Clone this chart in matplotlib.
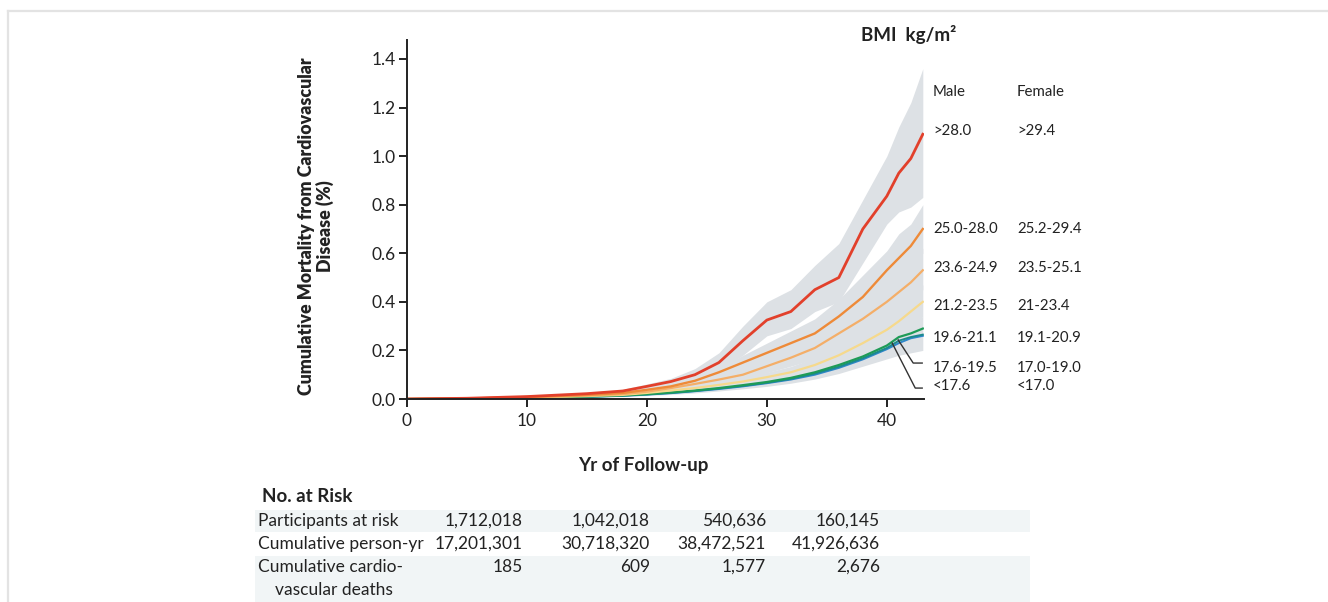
import matplotlib
matplotlib.use("Agg")
import matplotlib.pyplot as plt
from matplotlib.patches import Rectangle
from matplotlib.lines import Line2D

plt.rcParams['font.family'] = ['Lato', 'DejaVu Sans']
plt.rcParams['text.color'] = '#222222'

W, H = 1328, 602

# anos de seguimento
anos = [0, 5, 10, 15, 18, 20, 22, 24, 26, 28, 30, 32, 34, 36, 38, 40, 41, 42, 43]

# curvas de mortalidade cumulativa (%)
bmi_28 = [0, 0.003, 0.010, 0.022, 0.033, 0.052, 0.072, 0.100, 0.150, 0.240, 0.325, 0.360, 0.450, 0.500, 0.700, 0.835, 0.930, 0.990, 1.090]
bmi_25 = [0, 0.002, 0.008, 0.017, 0.025, 0.038, 0.052, 0.075, 0.110, 0.150, 0.190, 0.230, 0.270, 0.340, 0.420, 0.530, 0.580, 0.630, 0.700]
bmi_236 = [0, 0.002, 0.007, 0.014, 0.020, 0.030, 0.045, 0.062, 0.080, 0.100, 0.135, 0.170, 0.210, 0.270, 0.330, 0.400, 0.440, 0.480, 0.530]
bmi_212 = [0, 0.001, 0.006, 0.012, 0.017, 0.025, 0.035, 0.045, 0.058, 0.072, 0.090, 0.110, 0.140, 0.180, 0.230, 0.285, 0.320, 0.360, 0.400]
bmi_196 = [0, 0.001, 0.004, 0.010, 0.015, 0.020, 0.027, 0.035, 0.045, 0.057, 0.070, 0.087, 0.110, 0.140, 0.175, 0.220, 0.255, 0.270, 0.290]
bmi_176 = [0, 0.001, 0.004, 0.009, 0.014, 0.019, 0.025, 0.033, 0.043, 0.054, 0.067, 0.083, 0.105, 0.133, 0.168, 0.210, 0.240, 0.255, 0.265]
bmi_lt176 = [0, 0.001, 0.004, 0.009, 0.013, 0.018, 0.024, 0.032, 0.041, 0.052, 0.065, 0.080, 0.100, 0.128, 0.163, 0.205, 0.230, 0.250, 0.260]

# intervalos de confiança (limites inferior / superior)
ic_28_lo = [0, 0.002, 0.008, 0.018, 0.027, 0.045, 0.060, 0.080, 0.120, 0.180, 0.260, 0.290, 0.360, 0.400, 0.560, 0.720, 0.770, 0.790, 0.830]
ic_28_hi = [0, 0.004, 0.012, 0.026, 0.040, 0.062, 0.085, 0.125, 0.190, 0.300, 0.400, 0.450, 0.550, 0.640, 0.820, 1.000, 1.120, 1.220, 1.360]
ic_25_lo = [0, 0.001, 0.006, 0.014, 0.020, 0.030, 0.042, 0.060, 0.088, 0.120, 0.150, 0.185, 0.215, 0.270, 0.330, 0.420, 0.470, 0.520, 0.600]
ic_25_hi = [0, 0.003, 0.010, 0.020, 0.030, 0.046, 0.062, 0.090, 0.130, 0.180, 0.230, 0.280, 0.330, 0.410, 0.510, 0.610, 0.680, 0.720, 0.800]
ic_236_lo = [0, 0.001, 0.005, 0.011, 0.016, 0.024, 0.036, 0.050, 0.064, 0.080, 0.108, 0.135, 0.165, 0.210, 0.260, 0.320, 0.360, 0.400, 0.450]
ic_236_hi = [0, 0.003, 0.009, 0.017, 0.024, 0.036, 0.054, 0.074, 0.096, 0.122, 0.165, 0.205, 0.255, 0.330, 0.400, 0.480, 0.530, 0.570, 0.620]
ic_212_lo = [0, 0.001, 0.004, 0.009, 0.013, 0.019, 0.027, 0.035, 0.046, 0.057, 0.072, 0.088, 0.112, 0.145, 0.185, 0.230, 0.260, 0.300, 0.340]
ic_212_hi = [0, 0.002, 0.008, 0.015, 0.021, 0.031, 0.043, 0.055, 0.070, 0.088, 0.110, 0.134, 0.170, 0.218, 0.278, 0.340, 0.380, 0.420, 0.470]
ic_baixo_lo = [0, 0.000, 0.003, 0.007, 0.010, 0.014, 0.019, 0.025, 0.033, 0.042, 0.052, 0.065, 0.082, 0.105, 0.135, 0.165, 0.180, 0.190, 0.200]
ic_baixo_hi = [0, 0.002, 0.006, 0.012, 0.018, 0.025, 0.033, 0.043, 0.055, 0.070, 0.086, 0.106, 0.135, 0.170, 0.215, 0.270, 0.300, 0.320, 0.340]

faixas_male = ['>28.0', '25.0-28.0', '23.6-24.9', '21.2-23.5', '19.6-21.1', '17.6-19.5', '<17.6']
faixas_female = ['>29.4', '25.2-29.4', '23.5-25.1', '21-23.4', '19.1-20.9', '17.0-19.0', '<17.0']

# tabela "No. at Risk"
participantes = ['1,712,018', '1,042,018', '540,636', '160,145']
pessoa_ano = ['17,201,301', '30,718,320', '38,472,521', '41,926,636']
mortes = ['185', '609', '1,577', '2,676']


def fx(x):
    return x / W


def fy(y):
    return 1 - y / H


fig = plt.figure(figsize=(W / 100, H / 100), dpi=100)

# moldura cinza clara (topo e esquerda)
fig.add_artist(Line2D([fx(8), 1], [fy(10.5), fy(10.5)], color='#e3e3e3', lw=1.6))
fig.add_artist(Line2D([fx(8), fx(8)], [fy(10.5), 0], color='#e3e3e3', lw=1.6))

ax = fig.add_axes([fx(407), fy(399), (924 - 407) / W, (399 - 40) / H])

cinza = '#dde1e5'
for lo, hi in [(ic_28_lo, ic_28_hi), (ic_25_lo, ic_25_hi), (ic_236_lo, ic_236_hi),
               (ic_212_lo, ic_212_hi), (ic_baixo_lo, ic_baixo_hi)]:
    ax.fill_between(anos, lo, hi, color=cinza, lw=0)

ax.plot(anos, bmi_lt176, color='#2f86c9', lw=1.4)
ax.plot(anos, bmi_176, color='#1b8a8c', lw=1.4)
ax.plot(anos, bmi_196, color='#1e9b57', lw=1.6)
ax.plot(anos, bmi_212, color='#f6d98c', lw=1.6)
ax.plot(anos, bmi_236, color='#f4ae68', lw=1.6)
ax.plot(anos, bmi_25, color='#ee8a38', lw=1.7)
ax.plot(anos, bmi_28, color='#e2402b', lw=2.0)

ax.set_xlim(0, 43.1)
ax.set_ylim(0, 1.478)
ax.set_xticks([0, 10, 20, 30, 40])
ax.set_yticks([0.0, 0.2, 0.4, 0.6, 0.8, 1.0, 1.2, 1.4])
ax.set_yticklabels(['%.1f' % v for v in ax.get_yticks()])
ax.tick_params(direction='out', length=6, width=1.4, labelsize=12.5, colors='#222222', pad=2)
ax.tick_params(axis='x', pad=4)
for s in ['top', 'right']:
    ax.spines[s].set_visible(False)
for s in ['left', 'bottom']:
    ax.spines[s].set_linewidth(1.4)
    ax.spines[s].set_color('#222222')

# linhas indicadoras das curvas mais baixas
ax.plot([40.95, 42.2, 42.95], [0.243, 0.148, 0.148], color='#333333', lw=1.0, clip_on=False)
ax.plot([40.45, 42.37, 42.95], [0.23, 0.045, 0.045], color='#333333', lw=1.0, clip_on=False)

# textos
fig.text(fx(316), fy(226), 'Cumulative Mortality from Cardiovascular\nDisease (%)', rotation=90,
         ha='center', va='center', multialignment='center', fontsize=12.8, fontweight='heavy',
         linespacing=1.05)
fig.text(fx(643), fy(465), 'Yr of Follow-up', ha='center', va='center', fontsize=13.5, fontweight='bold')
fig.text(fx(909), fy(35), 'BMI  kg/m²', ha='center', va='center', fontsize=13.5, fontweight='bold')

col_male, col_female = 933, 1017
fig.text(fx(col_male), fy(92), 'Male', ha='left', va='center', fontsize=10.8)
fig.text(fx(col_female), fy(92), 'Female', ha='left', va='center', fontsize=10.8)
rotulo_y = [131, 229, 268, 306, 338, 368, 386]
for m, f, yy in zip(faixas_male, faixas_female, rotulo_y):
    fig.text(fx(col_male), fy(yy), m, ha='left', va='center', fontsize=10.8)
    fig.text(fx(col_female), fy(yy), f, ha='left', va='center', fontsize=10.8)

# tabela
fig.add_artist(Rectangle((fx(255), fy(532)), (1030 - 255) / W, 22 / H, color='#f1f5f6', lw=0, zorder=0))
fig.add_artist(Rectangle((fx(255), fy(602)), (1030 - 255) / W, 46 / H, color='#f1f5f6', lw=0, zorder=0))
fig.text(fx(262), fy(497), 'No. at Risk', ha='left', va='center', fontsize=13.5, fontweight='bold')
linhas_y = [521, 544, 567]
rotulos = ['Participants at risk', 'Cumulative person-yr', 'Cumulative cardio-']
for r, yy in zip(rotulos, linhas_y):
    fig.text(fx(258), fy(yy), r, ha='left', va='center', fontsize=12.5)
fig.text(fx(275), fy(590), 'vascular deaths', ha='left', va='center', fontsize=12.5)
col_x = [523, 650, 766, 880]
for vals, yy in zip([participantes, pessoa_ano, mortes], linhas_y):
    for v, xx in zip(vals, col_x):
        fig.text(fx(xx), fy(yy), v, ha='right', va='center', fontsize=12.5)

fig.savefig('out.png', dpi=100)
